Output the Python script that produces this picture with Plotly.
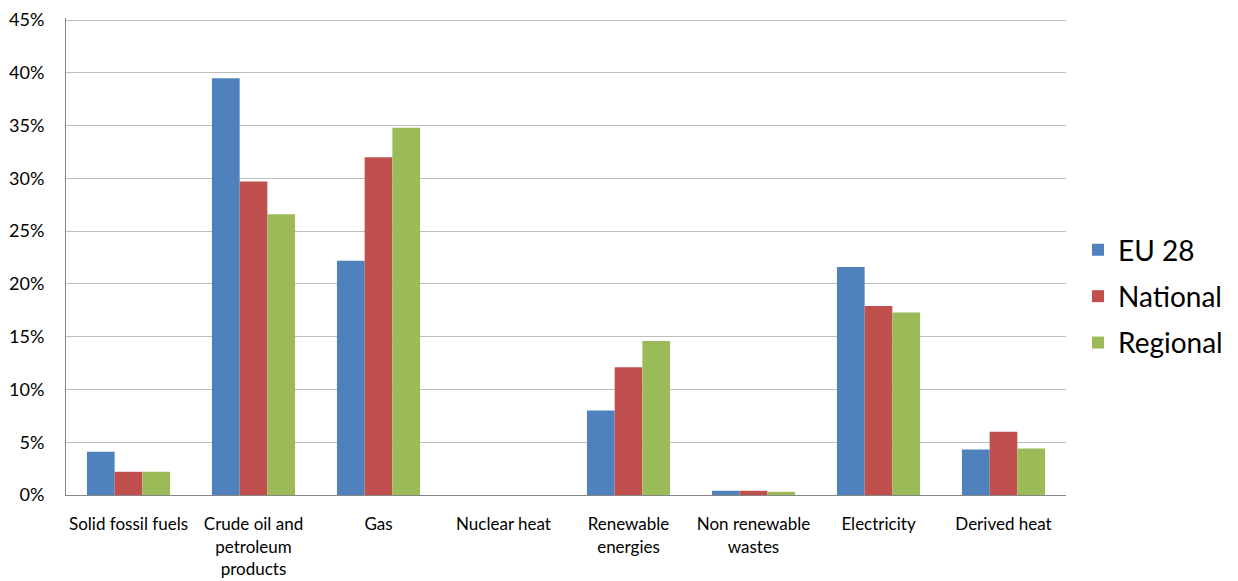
import plotly.graph_objects as go

categories = ["Solid fossil fuels", "Crude oil and<br>petroleum<br>products", "Gas", "Nuclear heat",
              "Renewable<br>energies", "Non renewable<br>wastes", "Electricity", "Derived heat"]
eu28 = [4.1, 39.5, 22.2, 0.0, 8.0, 0.4, 21.6, 4.3]
national = [2.2, 29.7, 32.0, 0.0, 12.1, 0.4, 17.9, 6.0]
regional = [2.2, 26.6, 34.8, 0.0, 14.6, 0.3, 17.3, 4.4]
series = [("EU 28", eu28, "#4F81BD"), ("National", national, "#C0504D"), ("Regional", regional, "#9BBB59")]
y_ticks = [0, 5, 10, 15, 20, 25, 30, 35, 40, 45]

fig = go.Figure()
for name, vals, color in series:
    fig.add_trace(go.Bar(x=categories, y=vals, name=name, legendgroup=name,
                         marker=dict(color=color, line=dict(width=0))))

fig.update_layout(
    width=1230, height=573,
    margin=dict(l=58, r=172, t=10, b=86, autoexpand=False),
    paper_bgcolor="white", plot_bgcolor="white",
    barmode="group", bargap=0.335, bargroupgap=0,
    font=dict(family="Lato, Carlito, sans-serif", color="black"),
    legend=dict(x=1.012, y=0.416, xanchor="left", yanchor="middle",
                font=dict(size=28), tracegroupgap=7, itemwidth=30),
    showlegend=True,
)
fig.update_xaxes(showgrid=False, showline=True, linecolor="#868686", linewidth=1,
                 tickfont=dict(size=17), ticks="", ticklabelstandoff=14, automargin=False,
                 ticklabeloverflow="allow")
fig.update_yaxes(range=[0, 45.2], tickvals=y_ticks, ticktext=[f"{v}%" for v in y_ticks],
                 showgrid=True, gridcolor="#BEBEBE", gridwidth=1, zeroline=False,
                 showline=True, linecolor="#868686", linewidth=1,
                 tickfont=dict(size=18), ticks="", ticklabelstandoff=17, automargin=False,
                 ticklabeloverflow="allow")

fig.write_html("out.html")
